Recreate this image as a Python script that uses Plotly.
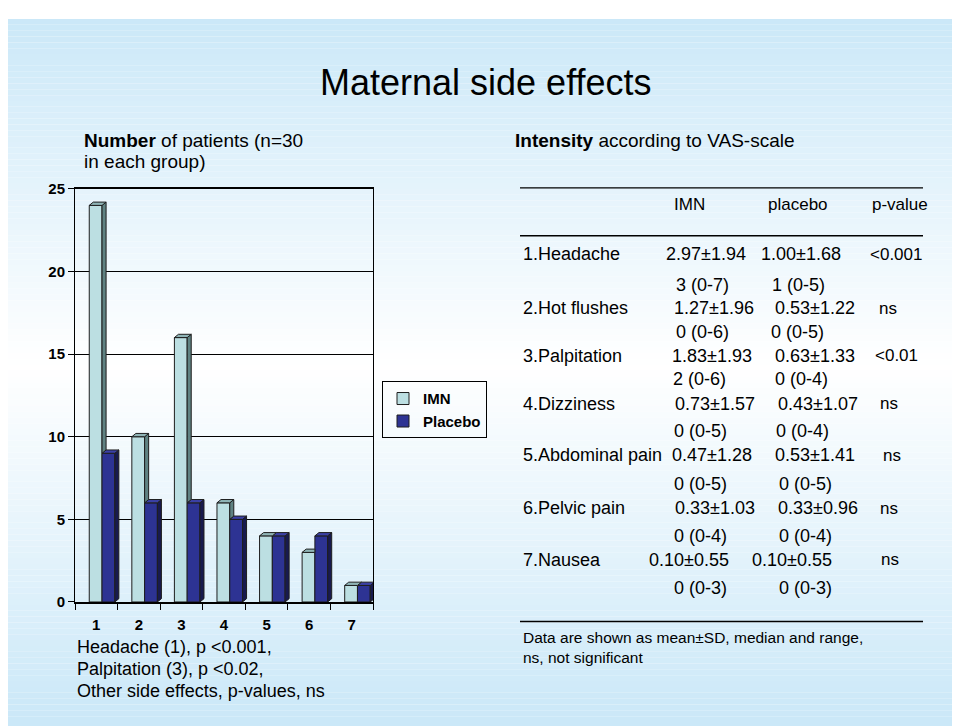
import plotly.graph_objects as go

# the page body margin (8px) offsets the figure; positions below are screen pixels
MARGIN = 8
W, H = 976, 726

# ---------------- data ----------------
categories = [1, 2, 3, 4, 5, 6, 7]
imn_counts = [24, 10, 16, 6, 4, 3, 1]
placebo_counts = [9, 6, 6, 5, 4, 4, 1]
y_ticks = [0, 5, 10, 15, 20, 25]
x_tick_labels = ["1", "2", "3", "4", "5", "6", "7"]

effects = ["1.Headache", "2.Hot flushes", "3.Palpitation", "4.Dizziness",
           "5.Abdominal pain", "6.Pelvic pain", "7.Nausea"]
imn_mean_sd = ["2.97±1.94", "1.27±1.96", "1.83±1.93", "0.73±1.57",
               "0.47±1.28", "0.33±1.03", "0.10±0.55"]
placebo_mean_sd = ["1.00±1.68", "0.53±1.22", "0.63±1.33", "0.43±1.07",
                   "0.53±1.41", "0.33±0.96", "0.10±0.55"]
imn_median_range = ["3 (0-7)", "0 (0-6)", "2 (0-6)", "0 (0-5)",
                    "0 (0-5)", "0 (0-4)", "0 (0-3)"]
placebo_median_range = ["1 (0-5)", "0 (0-5)", "0 (0-4)", "0 (0-4)",
                        "0 (0-5)", "0 (0-4)", "0 (0-3)"]
p_values = ["<0.001", "ns", "<0.01", "ns", "ns", "ns", "ns"]
table_headers = ["IMN", "placebo", "p-value"]

# ---------------- layout (screen pixel positions) ----------------
row_y_mean = [251, 306, 355, 404, 457, 511, 564]
row_y_median = [282, 331, 379, 432, 486, 539, 593]
x_label = 521
x_imn_mean = [664, 672, 670, 673, 670, 673, 647]
x_pl_mean = [759, 773, 773, 776, 773, 776, 750]
x_pval = [868, 877, 873, 878, 881, 878, 879]
x_imn_med = [674, 674, 671, 672, 672, 672, 672]
x_pl_med = [770, 769, 773, 774, 777, 777, 777]
x_headers = [672, 766, 870]

FONT = "Arial, 'Liberation Sans', sans-serif"
IMN_FRONT, IMN_SIDE, IMN_TOP = "#bcdfe2", "#5f8282", "#8fb4b6"
PL_FRONT, PL_SIDE, PL_TOP = "#2d3393", "#181a4e", "#3b40a6"
EDGE = "#1e1e1e"

BAR_W, OFF_IMN, OFF_PL = 0.30, -0.165, 0.135
DX, DY = 0.095, 0.2


def px(x):
    return (x - MARGIN) / W


def py(y):
    return 1 - (y - MARGIN) / H


def faces(vals, off, clip=None):
    sx, sy, tx, ty = [], [], [], []
    for i, (c, v) in enumerate(zip(categories, vals)):
        x0 = c + off
        x1 = x0 + BAR_W
        low = 0 if clip is None else clip[i]
        if v > low:
            sx += [x1, x1 + DX, x1 + DX, x1, x1, None]
            sy += [low, low + DY, v + DY, v, low, None]
        if clip is not None and v < clip[i]:
            tx += [x0, x0 + DX, x1, x1, x0, None]
            ty += [v, v + DY, v + DY, v, v, None]
        else:
            tx += [x0, x0 + DX, x1 + DX, x1, x0, None]
            ty += [v, v + DY, v + DY, v, v, None]
    return sx, sy, tx, ty


fig = go.Figure()

fig.add_trace(go.Bar(x=categories, y=imn_counts, offset=OFF_IMN, width=BAR_W,
                     name="<b>IMN</b>", marker=dict(color=IMN_FRONT, line=dict(color=EDGE, width=1)),
                     hoverinfo="skip"))
fig.add_trace(go.Bar(x=categories, y=placebo_counts, offset=OFF_PL, width=BAR_W,
                     name="<b>Placebo</b>", marker=dict(color=PL_FRONT, line=dict(color=EDGE, width=1)),
                     hoverinfo="skip"))

psx, psy, ptx, pty = faces(placebo_counts, OFF_PL)
isx, isy, itx, ity = faces(imn_counts, OFF_IMN, clip=placebo_counts)
for xs, ys, col in [(psx, psy, PL_SIDE), (ptx, pty, PL_TOP), (isx, isy, IMN_SIDE), (itx, ity, IMN_TOP)]:
    fig.add_trace(go.Scatter(x=xs, y=ys, mode="lines", fill="toself", fillcolor=col,
                             line=dict(color=EDGE, width=1), hoverinfo="skip", showlegend=False))

# ---------------- background gradient (styling) ----------------
shapes = []
top, bottom, mid = 10, 734, 365
step = 6
y = top
while y < bottom:
    yc = y + step / 2
    t = abs(yc - mid) / (mid - top if yc < mid else 726 - mid)
    t = min(max(t, 0), 1)
    r = round(255 + (203 - 255) * t)
    g = round(255 + (232 - 255) * t)
    b = round(255 + (248 - 255) * t)
    shapes.append(dict(type="rect", xref="paper", yref="paper", layer="below",
                       x0=0, x1=1, y0=max(py(y + step), 0), y1=py(y),
                       fillcolor=f"rgb({r},{g},{b})", line=dict(width=0)))
    y += step

# table rules
for ry in [183, 232, 627]:
    shapes.append(dict(type="line", xref="paper", yref="paper",
                       x0=px(520), x1=px(923), y0=py(ry), y1=py(ry),
                       line=dict(color="black", width=1.3)))

annotations = []


def text(x, y, s, size, xanchor="left", yanchor="middle"):
    annotations.append(dict(x=px(x), y=py(y), xref="paper", yref="paper", text=s,
                            showarrow=False, xanchor=xanchor, yanchor=yanchor,
                            font=dict(family=FONT, size=size, color="black")))


text(486, 75, "Maternal side effects", 36, xanchor="center")
text(82, 134, "<b>Number</b> of patients (n=30", 19)
text(82, 156, "in each group)", 19)
text(513, 134, "<b>Intensity</b> according to VAS-scale", 19)

text(75, 653, "Headache (1), p <0.001,", 18)
text(75, 676, "Palpitation (3), p <0.02,", 18)
text(75, 698, "Other side effects, p-values, ns", 18)

for hx, h in zip(x_headers, table_headers):
    text(hx, 200, h, 17)
for i in range(len(effects)):
    text(x_label, row_y_mean[i], effects[i], 18)
    text(x_imn_mean[i], row_y_mean[i], imn_mean_sd[i], 18)
    text(x_pl_mean[i], row_y_mean[i], placebo_mean_sd[i], 18)
    text(x_pval[i], row_y_mean[i], p_values[i], 17)
    text(x_imn_med[i], row_y_median[i], imn_median_range[i], 18)
    text(x_pl_med[i], row_y_median[i], placebo_median_range[i], 18)

text(521, 643, "Data are shown as mean±SD, median and range,", 15.5)
text(521, 664, "ns, not significant", 15.5)

fig.update_layout(
    width=W, height=H,
    margin=dict(l=0, r=0, t=0, b=0),
    paper_bgcolor="white",
    plot_bgcolor="rgba(0,0,0,0)",
    font=dict(family=FONT, color="black"),
    barmode="overlay",
    showlegend=True,
    legend=dict(x=px(382), y=py(381), xanchor="left", yanchor="top",
                bgcolor="rgba(0,0,0,0)", bordercolor="black", borderwidth=1,
                font=dict(family=FONT, size=15, color="black"),
                itemwidth=30, tracegroupgap=2),
    xaxis=dict(domain=[px(75), px(373)], range=[0.5, 7.5],
               tickvals=categories, ticktext=[f"<b>{t}</b>" for t in x_tick_labels],
               tickfont=dict(family=FONT, size=15, color="black"),
               ticks="", ticklabelstandoff=8,
               minor=dict(tick0=0.5, dtick=1, ticks="outside", ticklen=6, tickcolor="black"),
               showline=True, linecolor="black", linewidth=1.5, mirror=True,
               showgrid=False, zeroline=False, fixedrange=True),
    yaxis=dict(domain=[py(607), py(184)], range=[0, 25],
               tickvals=y_ticks, ticktext=[f"<b>{v}</b>" for v in y_ticks],
               tickfont=dict(family=FONT, size=15, color="black"),
               ticks="outside", ticklen=6, tickcolor="black",
               showline=True, linecolor="black", linewidth=1, mirror=True,
               showgrid=True, gridcolor="black", gridwidth=1, zeroline=False,
               fixedrange=True),
    shapes=shapes,
    annotations=annotations,
)

fig.write_html("out.html")
